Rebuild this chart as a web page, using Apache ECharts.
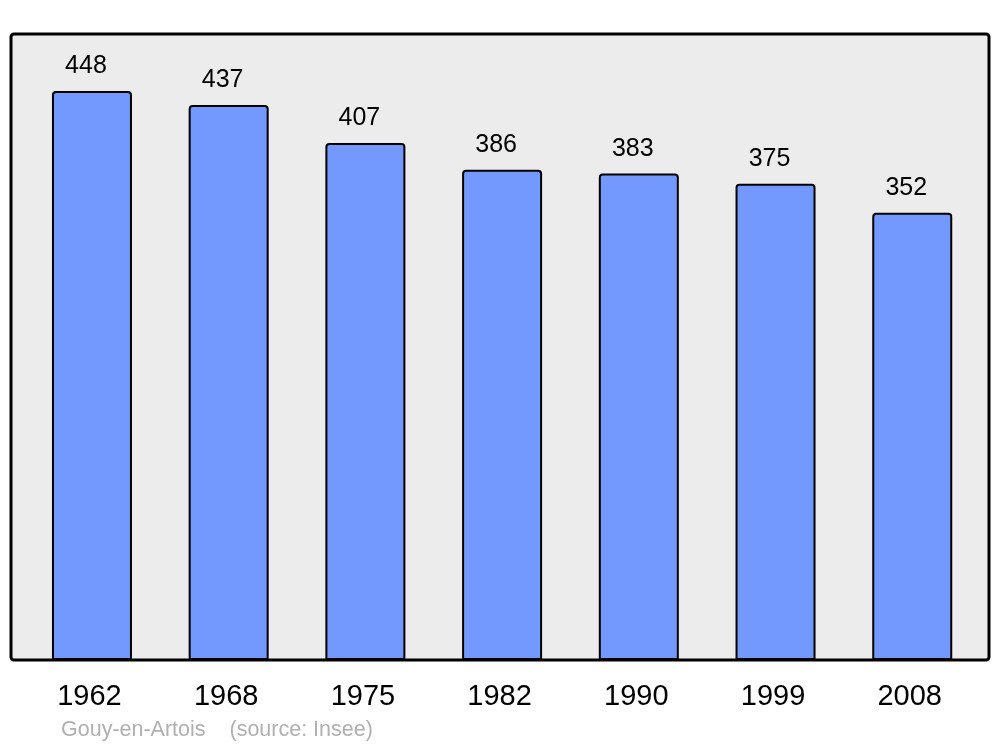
<!DOCTYPE html>
<html>
<head>
<meta charset="utf-8">
<script src="https://cdn.jsdelivr.net/npm/echarts@6/dist/echarts.min.js"></script>
<style>
html,body{margin:0;padding:0;background:#fff;}
#chart{width:1000px;height:747px;}
</style>
</head>
<body>
<div id="chart"></div>
<script>
const years = ['1962','1968','1975','1982','1990','1999','2008'];
const population = [448, 437, 407, 386, 383, 375, 352];
const sourceText = 'Gouy-en-Artois    (source: Insee)';

const chart = echarts.init(document.getElementById('chart'), null, {renderer:'canvas'});
const yMax = Math.max(...population) * 1.1;
chart.setOption({
  animation: false,
  backgroundColor: '#ffffff',
  textStyle: {fontFamily: 'Liberation Sans, Arial, sans-serif'},
  graphic: [
    {type:'rect', z:-10, shape:{x:11, y:34, width:978, height:626, r:3},
     style:{fill:'#ececec', stroke:'#000', lineWidth:3}},
    {type:'text', left:61, top:719, style:{text:sourceText, fill:'#b0b0b0', font:'21.5px Liberation Sans, Arial, sans-serif'}}
  ],
  grid: {left:23.6, right:19.4, top:34, bottom:87, containLabel:false},
  xAxis: {
    type:'category', data:years,
    axisLine:{show:false}, axisTick:{show:false},
    axisLabel:{fontSize:29, color:'#000', margin:22, padding:[0,5,0,0], fontFamily:'Liberation Sans, Arial, sans-serif'}
  },
  yAxis: {
    type:'value', min:0, max:yMax,
    show:false, splitLine:{show:false}
  },
  series: [{
    type:'bar', data:population, barWidth:80,
    itemStyle:{color:'#7399ff', borderColor:'#000', borderWidth:2, borderRadius:[3,3,0,0]},
    label:{show:true, position:'top', distance:12, offset:[-6,0], fontSize:25, color:'#000', fontFamily:'Liberation Sans, Arial, sans-serif'}
  }]
});
</script>
</body>
</html>
